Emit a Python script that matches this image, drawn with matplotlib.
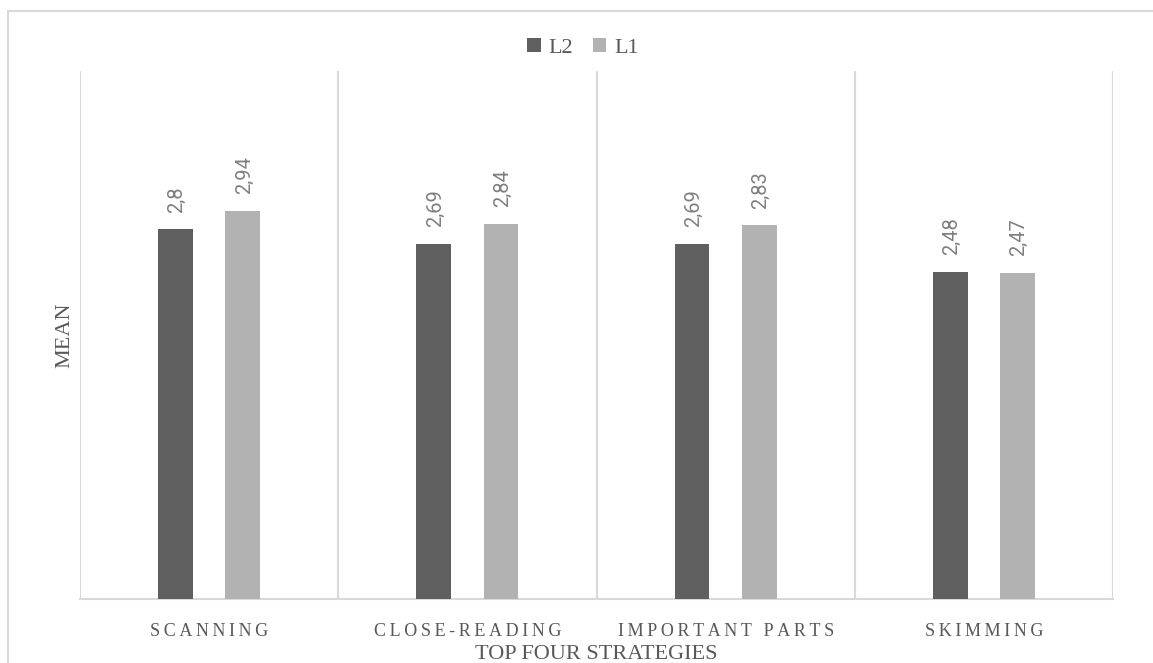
import matplotlib
matplotlib.use("Agg")
import matplotlib.pyplot as plt
from matplotlib.patches import Rectangle
import numpy as np

categories = ["SCANNING", "CLOSE-READING", "IMPORTANT PARTS", "SKIMMING"]
series_names = ["L2", "L1"]
l2_values = [2.80, 2.69, 2.69, 2.48]
l1_values = [2.94, 2.84, 2.83, 2.47]
l2_labels = ["2,8", "2,69", "2,69", "2,48"]
l1_labels = ["2,94", "2,84", "2,83", "2,47"]

DARK = "#5f5f5f"
LIGHT = "#b2b2b2"
GRID = "#d9d9d9"
TEXT = "#595959"
SERIF = ["Liberation Serif", "DejaVu Serif"]

W, H = 1153, 663
fig = plt.figure(figsize=(W / 100, H / 100), dpi=100)

# outer chart border (runs past the right and bottom edges)
fig.patches.append(Rectangle((8 / W, -0.1), 1.2, 1 - 11 / H + 0.1,
                             transform=fig.transFigure, fill=False,
                             edgecolor=GRID, linewidth=1.5))

ax = fig.add_axes([80 / W, 1 - 599 / H, (1113 - 80) / W, (599 - 71) / H])
ax.set_ylim(0, 4)
n = len(categories)
ax.set_xlim(-0.5, n - 0.5)

x = np.arange(n)
bw = 0.135
off = 0.13
b2 = ax.bar(x - off, l2_values, bw, color=DARK, label=series_names[0], zorder=3)
b1 = ax.bar(x + off, l1_values, bw, color=LIGHT, label=series_names[1], zorder=3)

for bars, labels in ((b2, l2_labels), (b1, l1_labels)):
    for rect, lab in zip(bars, labels):
        ax.annotate(lab, (rect.get_x() + rect.get_width() / 2, rect.get_height()),
                    xytext=(1, 12), textcoords="offset points",
                    rotation=90, ha="center", va="bottom",
                    fontsize=14.5, color="#7f7f7f", family=["Roboto", "DejaVu Sans"])

# category separators
for b in np.arange(n + 1) - 0.5:
    ax.axvline(b, color=GRID, linewidth=1.5, zorder=1)

for s in ("top", "right", "left"):
    ax.spines[s].set_visible(False)
ax.spines["bottom"].set_color(GRID)
ax.spines["bottom"].set_linewidth(1.5)
ax.set_yticks([])

spaced = ["\u2009".join(c) for c in categories]
ax.set_xticks(x)
ax.set_xticklabels(spaced, family=SERIF, fontsize=13, color=TEXT)
ax.tick_params(axis="x", length=0, pad=17)

ax.set_xlabel("TOP FOUR STRATEGIES", family=SERIF, fontsize=16, color=TEXT, labelpad=4)
ax.set_ylabel("MEAN", family=SERIF, fontsize=16, color=TEXT, labelpad=4)

leg = fig.legend(loc="center", bbox_to_anchor=(583 / W, 1 - 48 / H), ncol=2, frameon=False,
                 prop={"family": SERIF, "size": 16}, handlelength=0.6, handleheight=0.6,
                 handletextpad=0.35, columnspacing=0.9, borderpad=0)
for t in leg.get_texts():
    t.set_color(TEXT)

fig.savefig("out.png", dpi=100)
